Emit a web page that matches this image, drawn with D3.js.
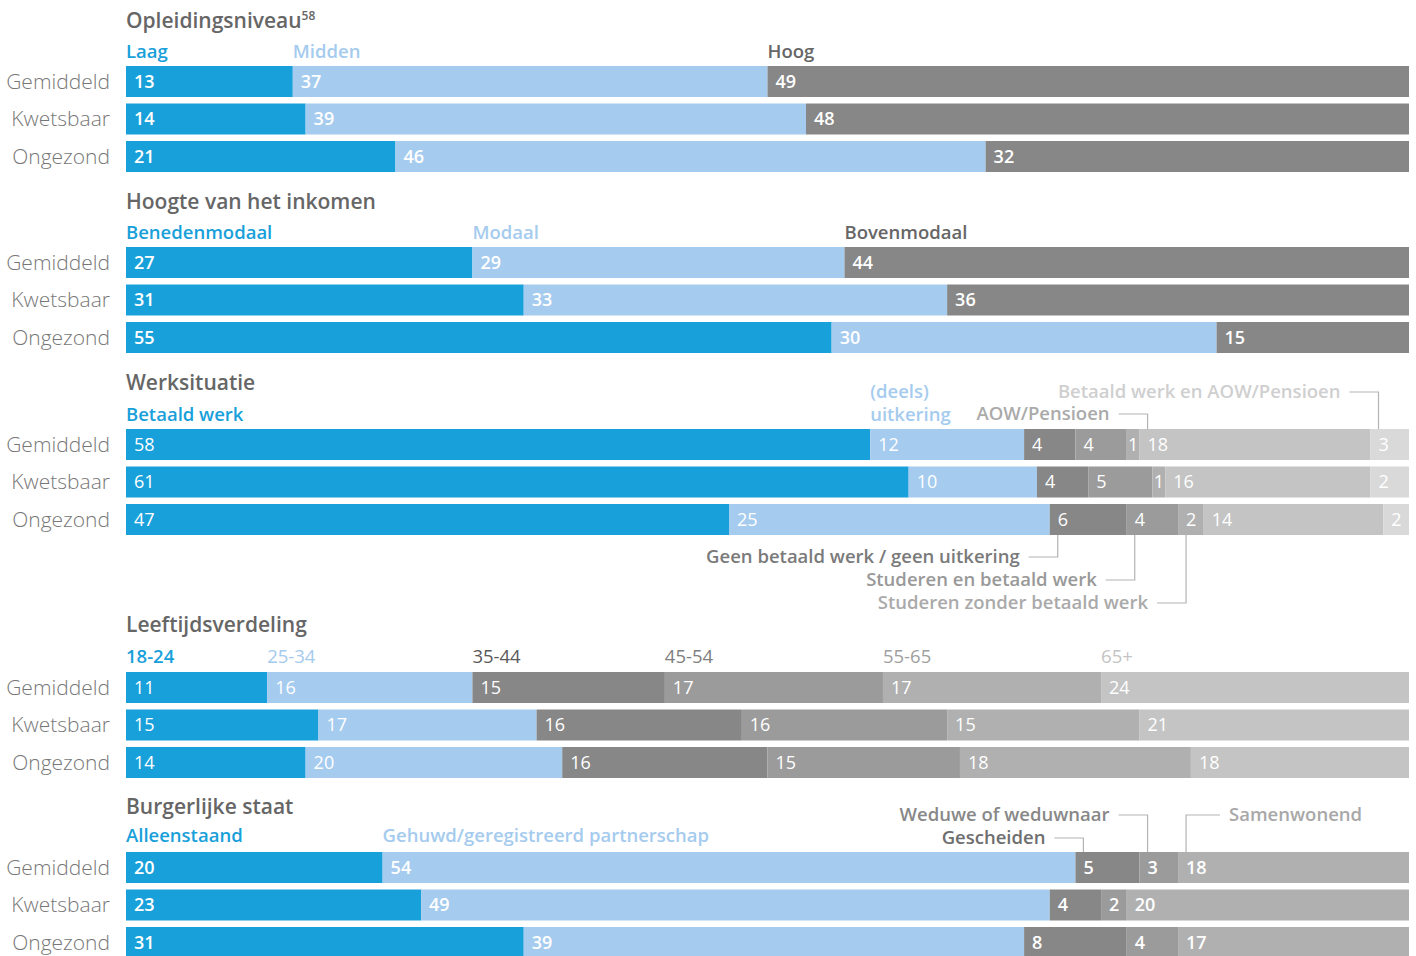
<!DOCTYPE html>
<html><head><meta charset="utf-8">
<script src="https://cdn.jsdelivr.net/npm/d3@7/dist/d3.min.js"></script>
<style>
html,body{margin:0;padding:0;background:#fff;}
svg{display:block;font-family:"Open Sans",sans-serif;}
</style></head>
<body><svg id="chart" width="1416" height="956"></svg>
<script>
// ---- DATA ----
const rowLabels = ["Gemiddeld","Kwetsbaar","Ongezond"];

const opleidingCategories = ["Laag","Midden","Hoog"];
const opleidingValues = [[13,37,49],[14,39,48],[21,46,32]];

const inkomenCategories = ["Benedenmodaal","Modaal","Bovenmodaal"];
const inkomenValues = [[27,29,44],[31,33,36],[55,30,15]];

const werkCategories = ["Betaald werk","(deels) uitkering","Geen betaald werk / geen uitkering","Studeren en betaald werk","Studeren zonder betaald werk","AOW/Pensioen","Betaald werk en AOW/Pensioen"];
const werkValues = [[58,12,4,4,1,18,3],[61,10,4,5,1,16,2],[47,25,6,4,2,14,2]];

const leeftijdCategories = ["18-24","25-34","35-44","45-54","55-65","65+"];
const leeftijdValues = [[11,16,15,17,17,24],[15,17,16,16,15,21],[14,20,16,15,18,18]];

const burgerCategories = ["Alleenstaand","Gehuwd/geregistreerd partnerschap","Gescheiden","Weduwe of weduwnaar","Samenwonend"];
const burgerValues = [[20,54,5,3,18],[23,49,4,2,20],[31,39,8,4,17]];

// ---- STYLE / LAYOUT ----
const BLUE="#18a0da", LBLUE="#a5cbee";
const G1="#878787", G2="#9b9b9b", G3="#b0b0b0", G4="#c4c4c4", G5="#d9d9d9";
const sections = [
  {title:"Opleidingsniveau", sup:"58", cats:opleidingCategories, vals:opleidingValues,
   fills:[BLUE,LBLUE,G1], textCols:[BLUE,LBLUE,"#666"], titleY:21, catY:52, barY:66, w:600, lw:600},
  {title:"Hoogte van het inkomen", cats:inkomenCategories, vals:inkomenValues,
   fills:[BLUE,LBLUE,G1], textCols:[BLUE,LBLUE,"#666"], titleY:202, catY:233, barY:247, w:600, lw:600},
  {title:"Werksituatie", cats:werkCategories, vals:werkValues,
   fills:[BLUE,LBLUE,G1,G2,G3,G4,G5], textCols:[BLUE,LBLUE,"#7a7a7a","#999","#aaa","#aaa","#cfcfcf"],
   titleY:383, catY:415, barY:429, w:400, lw:600,
   plain:{0:{y:415},1:{lines:["(deels)","uitkering"],y:392}},
   notes:[{i:5,row:0,side:"above",y:414,dir:"left"},
          {i:6,row:0,side:"above",y:392,dir:"left"},
          {i:2,row:2,side:"below",y:557,dir:"left"},
          {i:3,row:2,side:"below",y:580,dir:"left"},
          {i:4,row:2,side:"below",y:603,dir:"left"}]},
  {title:"Leeftijdsverdeling", cats:leeftijdCategories, vals:leeftijdValues,
   fills:[BLUE,LBLUE,G1,G2,G3,G4], textCols:[BLUE,LBLUE,"#5a5a5a","#808080","#a0a0a0","#c4c4c4"],
   titleY:625, catY:657, barY:672, w:400, lw:400, catW:[600,400,400,400,400,400]},
  {title:"Burgerlijke staat", cats:burgerCategories, vals:burgerValues,
   fills:[BLUE,LBLUE,G1,G2,G3], textCols:[BLUE,LBLUE,"#6e6e6e","#888","#a8a8a8"],
   titleY:807, catY:836, barY:852, w:600, lw:600,
   plain:{0:{y:836},1:{y:836}},
   notes:[{i:2,row:0,side:"above",y:838,dir:"left"},
          {i:3,row:0,side:"above",y:815,dir:"left"},
          {i:4,row:0,side:"above",y:815,dir:"right"}]}
];

const svg = d3.select("#chart");
const x = d3.scaleLinear().domain([0,100]).range([126,1409]);
const barH = 31, rowStep = 37.5;
const LBL = 18.5;

sections.forEach(s => {
  const g = svg.append("g");
  const y = d3.scalePoint().domain(rowLabels).range([s.barY, s.barY + rowStep*2]);
  // segments
  const segs = s.vals.map((row, r) => {
    let c = 0;
    return row.map((v, i) => {
      const start = c; c += v;
      const end = (i === row.length-1) ? 100 : c;
      return {r, i, v, start, end};
    });
  });
  // title
  const t = g.append("text").attr("x",126).attr("y",s.titleY).attr("dy","0.35em")
    .attr("font-size",21).attr("font-weight",600).attr("fill","#666").text(s.title);
  if (s.sup) t.append("tspan").attr("font-size",12).attr("dy","-0.7em").text(s.sup);
  // row labels
  g.selectAll(".rl").data(rowLabels).join("text")
    .attr("x",110).attr("y",d=>y(d)+barH/2).attr("dy","0.35em").attr("text-anchor","end")
    .attr("font-size",21).attr("font-weight",300).attr("fill","#777").text(d=>d);
  // bars
  segs.forEach(row => {
    g.selectAll(null).data(row).join("rect")
      .attr("x",d=>x(d.start)).attr("width",d=>x(d.end)-x(d.start))
      .attr("y",d=>y(rowLabels[d.r])).attr("height",barH)
      .attr("fill",d=>s.fills[d.i]);
    g.selectAll(null).data(row).join("text")
      .attr("x",d=>{ const w = x(d.end)-x(d.start); return w < 20 ? (x(d.start)+x(d.end))/2 : x(d.start)+8; })
      .attr("text-anchor",d=> (x(d.end)-x(d.start)) < 20 ? "middle" : "start")
      .attr("y",d=>y(rowLabels[d.r])+barH/2).attr("dy","0.36em")
      .attr("font-size",18).attr("font-weight",s.w).attr("fill","#fff").text(d=>d.v);
  });
  // category labels
  const noteIdx = new Set((s.notes||[]).map(n=>n.i));
  s.cats.forEach((c, i) => {
    if (noteIdx.has(i)) return;
    const p = (s.plain && s.plain[i]) || {y:s.catY};
    const lines = p.lines || [c];
    const cx = x(segs[0][i].start);
    lines.forEach((ln, k) => {
      g.append("text").attr("x",cx).attr("y",p.y + k*23).attr("dy","0.35em")
        .attr("font-size",LBL).attr("font-weight",s.catW ? s.catW[i] : s.lw)
        .attr("fill",s.textCols[i]).text(ln);
    });
  });
  // annotations with leader lines
  (s.notes||[]).forEach(n => {
    const seg = segs[n.row][n.i];
    const vx = x(seg.start) + 8;
    const by = n.side === "above" ? y(rowLabels[n.row]) : y(rowLabels[n.row]) + barH;
    const hx = n.dir === "left" ? vx - 29 : vx + 34;
    g.append("path").attr("d",`M${hx},${n.y}H${vx}V${by}`)
      .attr("fill","none").attr("stroke","#b3b3b3").attr("stroke-width",1.2);
    g.append("text").attr("x", n.dir === "left" ? hx - 9 : hx + 9).attr("y",n.y).attr("dy","0.35em")
      .attr("text-anchor", n.dir === "left" ? "end" : "start")
      .attr("font-size",LBL).attr("font-weight",600).attr("fill",s.textCols[n.i]).text(s.cats[n.i]);
  });
});
</script></body></html>
